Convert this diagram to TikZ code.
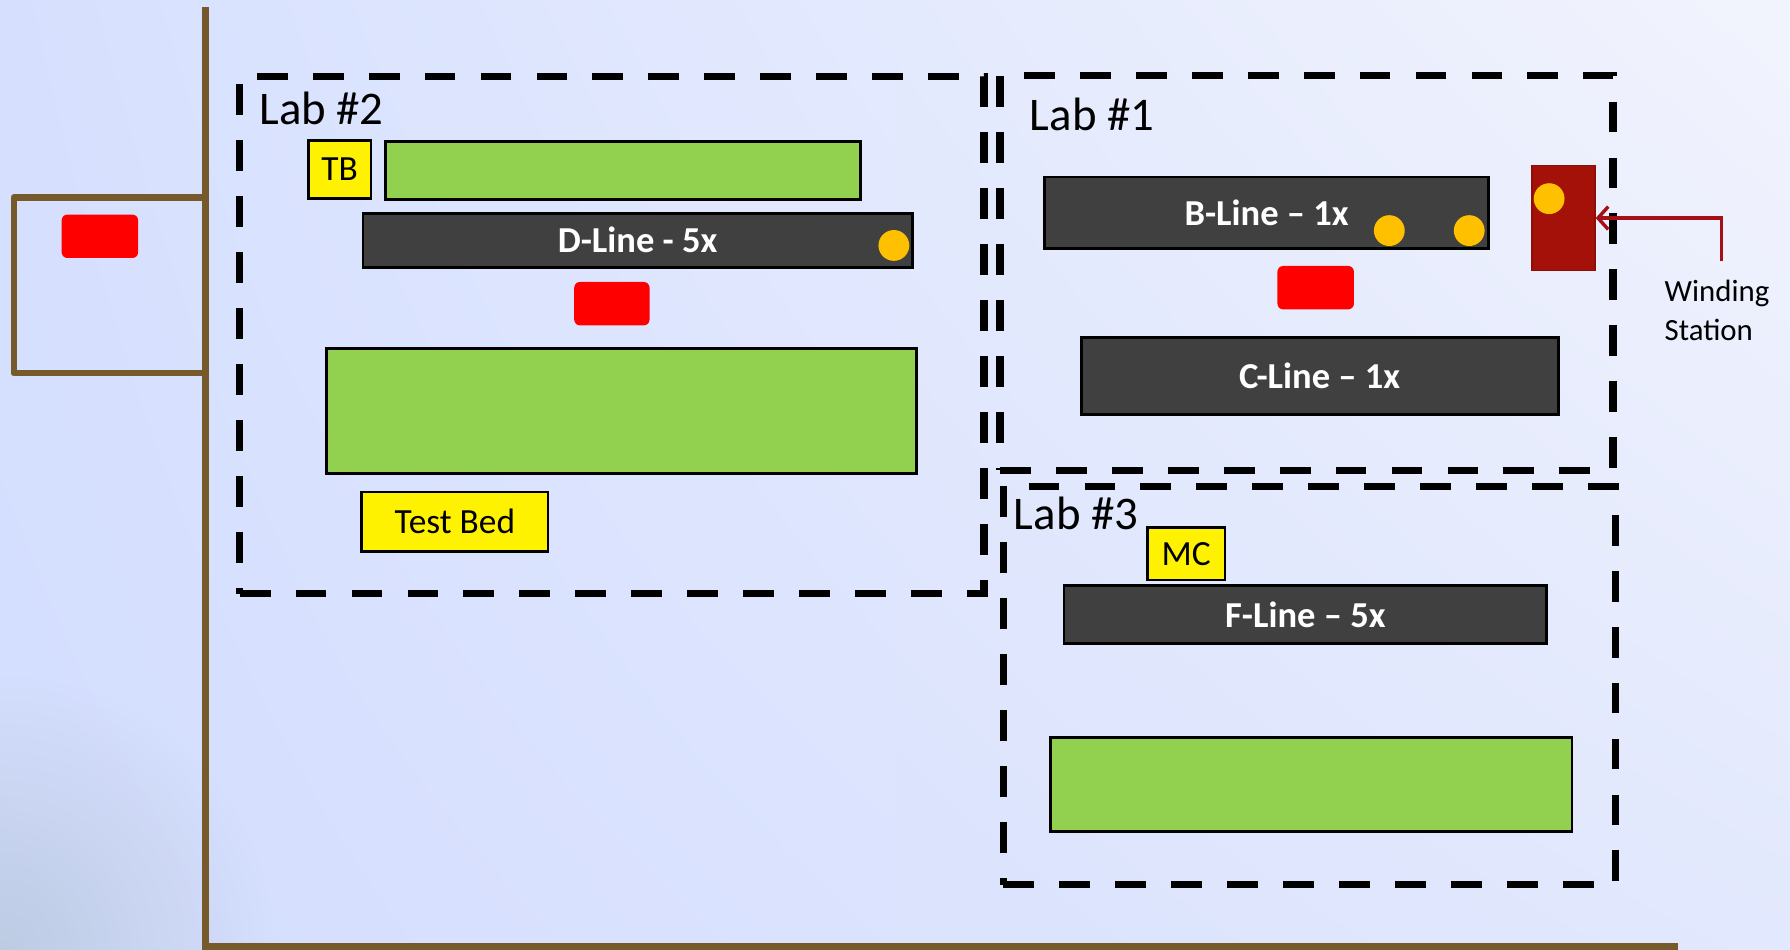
\documentclass[tikz,border=0pt]{standalone}
\usepackage{fontspec}
\setmainfont{Carlito}
\usetikzlibrary{arrows.meta,fadings,shadings}
\definecolor{brownwall}{HTML}{765A2C}
\definecolor{lgreen}{HTML}{92D050}
\definecolor{dgrey}{HTML}{404040}
\definecolor{dotorange}{HTML}{FFC000}
\definecolor{wsred}{HTML}{A31108}
\definecolor{wsborder}{HTML}{8E0E08}
\definecolor{arrred}{HTML}{A50F15}
\definecolor{bgUL}{HTML}{D6E0FE}
\definecolor{bgUR}{HTML}{F2F4FD}
\definecolor{bgLL}{HTML}{D3DDFE}
\definecolor{bgLR}{HTML}{E2E8FD}
\definecolor{shadowc}{HTML}{B4C4D8}
\tikzfading[name=cornerfade, inner color=transparent!0, outer color=transparent!100]
\tikzset{
  boxbase/.style={draw=black, line width=2.5pt, inner sep=0pt, outer sep=0pt},
  greenbox/.style={boxbase, fill=lgreen},
  linebox/.style={boxbase, fill=dgrey, text=white, font=\fontsize{32}{38}\selectfont\bfseries},
  yellowbox/.style={boxbase, fill=yellow, font=\fontsize{31}{36}\selectfont},
  redbox/.style={fill=red, rounded corners=5pt, inner sep=0pt},
  odot/.style={circle, fill=dotorange, minimum size=27pt, inner sep=0pt},
  labbox/.style={draw=black, line width=6.5pt, dash pattern=on 27pt off 22pt, inner sep=0pt},
  labtext/.style={font=\fontsize{41}{47}\selectfont, inner sep=0pt, anchor=base west},
  wall/.style={draw=brownwall, line width=5.5pt},
}
\begin{document}
\begin{tikzpicture}[x=1pt,y=-1pt]
\useasboundingbox (0,0) rectangle (1568,832);
% background
\shade[upper left=bgUL, upper right=bgUR, lower left=bgLL, lower right=bgLR] (0,0) rectangle (1568,832);
\begin{scope}
\clip (0,0) rectangle (1568,832);
\fill[shadowc, path fading=cornerfade, opacity=0.7] (0,832) circle (240);
\end{scope}
% walls
\draw[wall] (180,6) -- (180,829) -- (1470,829);
\draw[wall, line join=round] (180,173) -- (12,173) -- (12,327) -- (180,327);
% labs
\node[labbox, minimum width=652pt, minimum height=453pt] (lab2) at (536,293.5) {};
\node[labbox, minimum width=537pt, minimum height=346pt] (lab1) at (1144.5,239) {};
\node[labbox, minimum width=536pt, minimum height=349pt] (lab3) at (1147,600.5) {};
\node[labtext] (lab2t) at (227,109) {Lab \#2};
\node[labtext] (lab1t) at (902,114) {Lab \#1};
\node[labtext] (lab3t) at (888,464) {Lab \#3};
% left red
\node[redbox, minimum width=67pt, minimum height=38pt] (redL) at (87.5,207) {};
% Lab 2 contents
\node[yellowbox, minimum width=55pt, minimum height=51pt] (tb) at (297.5,148.5) {TB};
\node[greenbox, minimum width=416pt, minimum height=51pt] (g1) at (546,149.5) {};
\node[linebox, minimum width=481pt, minimum height=47pt] (dline) at (558.5,210.5) {D-Line - 5x};
\node[odot] (dd1) at (783,215) {};
\node[redbox, minimum width=66pt, minimum height=38pt] (red2) at (536,266) {};
\node[greenbox, minimum width=517pt, minimum height=110pt] (g2) at (544.5,360) {};
\node[yellowbox, minimum width=163pt, minimum height=52pt] (testbed) at (398.5,457) {Test Bed};
% Lab 1 contents
\node[linebox, minimum width=389pt, minimum height=63pt] (bline) at (1109.5,186.5) {B-Line -- 1x};
\node[odot] (bd1) at (1217,202) {};
\node[odot] (bd2) at (1287,202) {};
\node[draw=wsborder, fill=wsred, line width=1.5pt, minimum width=55pt, minimum height=92pt, inner sep=0pt] (ws) at (1369.5,191) {};
\node[odot] (wsd) at (1357,174) {};
\node[redbox, minimum width=67pt, minimum height=38pt] (red3) at (1152.5,252) {};
\node[linebox, minimum width=418pt, minimum height=67pt] (cline) at (1156,329.5) {C-Line -- 1x};
% Lab 3 contents
\node[yellowbox, minimum width=68pt, minimum height=46pt] (mc) at (1039,485) {MC};
\node[linebox, minimum width=423pt, minimum height=51pt] (fline) at (1143.5,538.5) {F-Line -- 5x};
\node[greenbox, minimum width=457pt, minimum height=82pt] (g3) at (1148.5,687) {};
% winding station label and arrow
\coordinate (wsA) at (1508,229);
\draw[arrred, line width=3pt, -{Straight Barb[length=9pt,width=20pt,line width=3pt]}] (wsA) |- (ws.east);
\node[font=\fontsize{27}{34}\selectfont, align=left, anchor=base west, inner sep=0pt] (wst) at (1458,298) {Winding\\Station};
\end{tikzpicture}
\end{document}
